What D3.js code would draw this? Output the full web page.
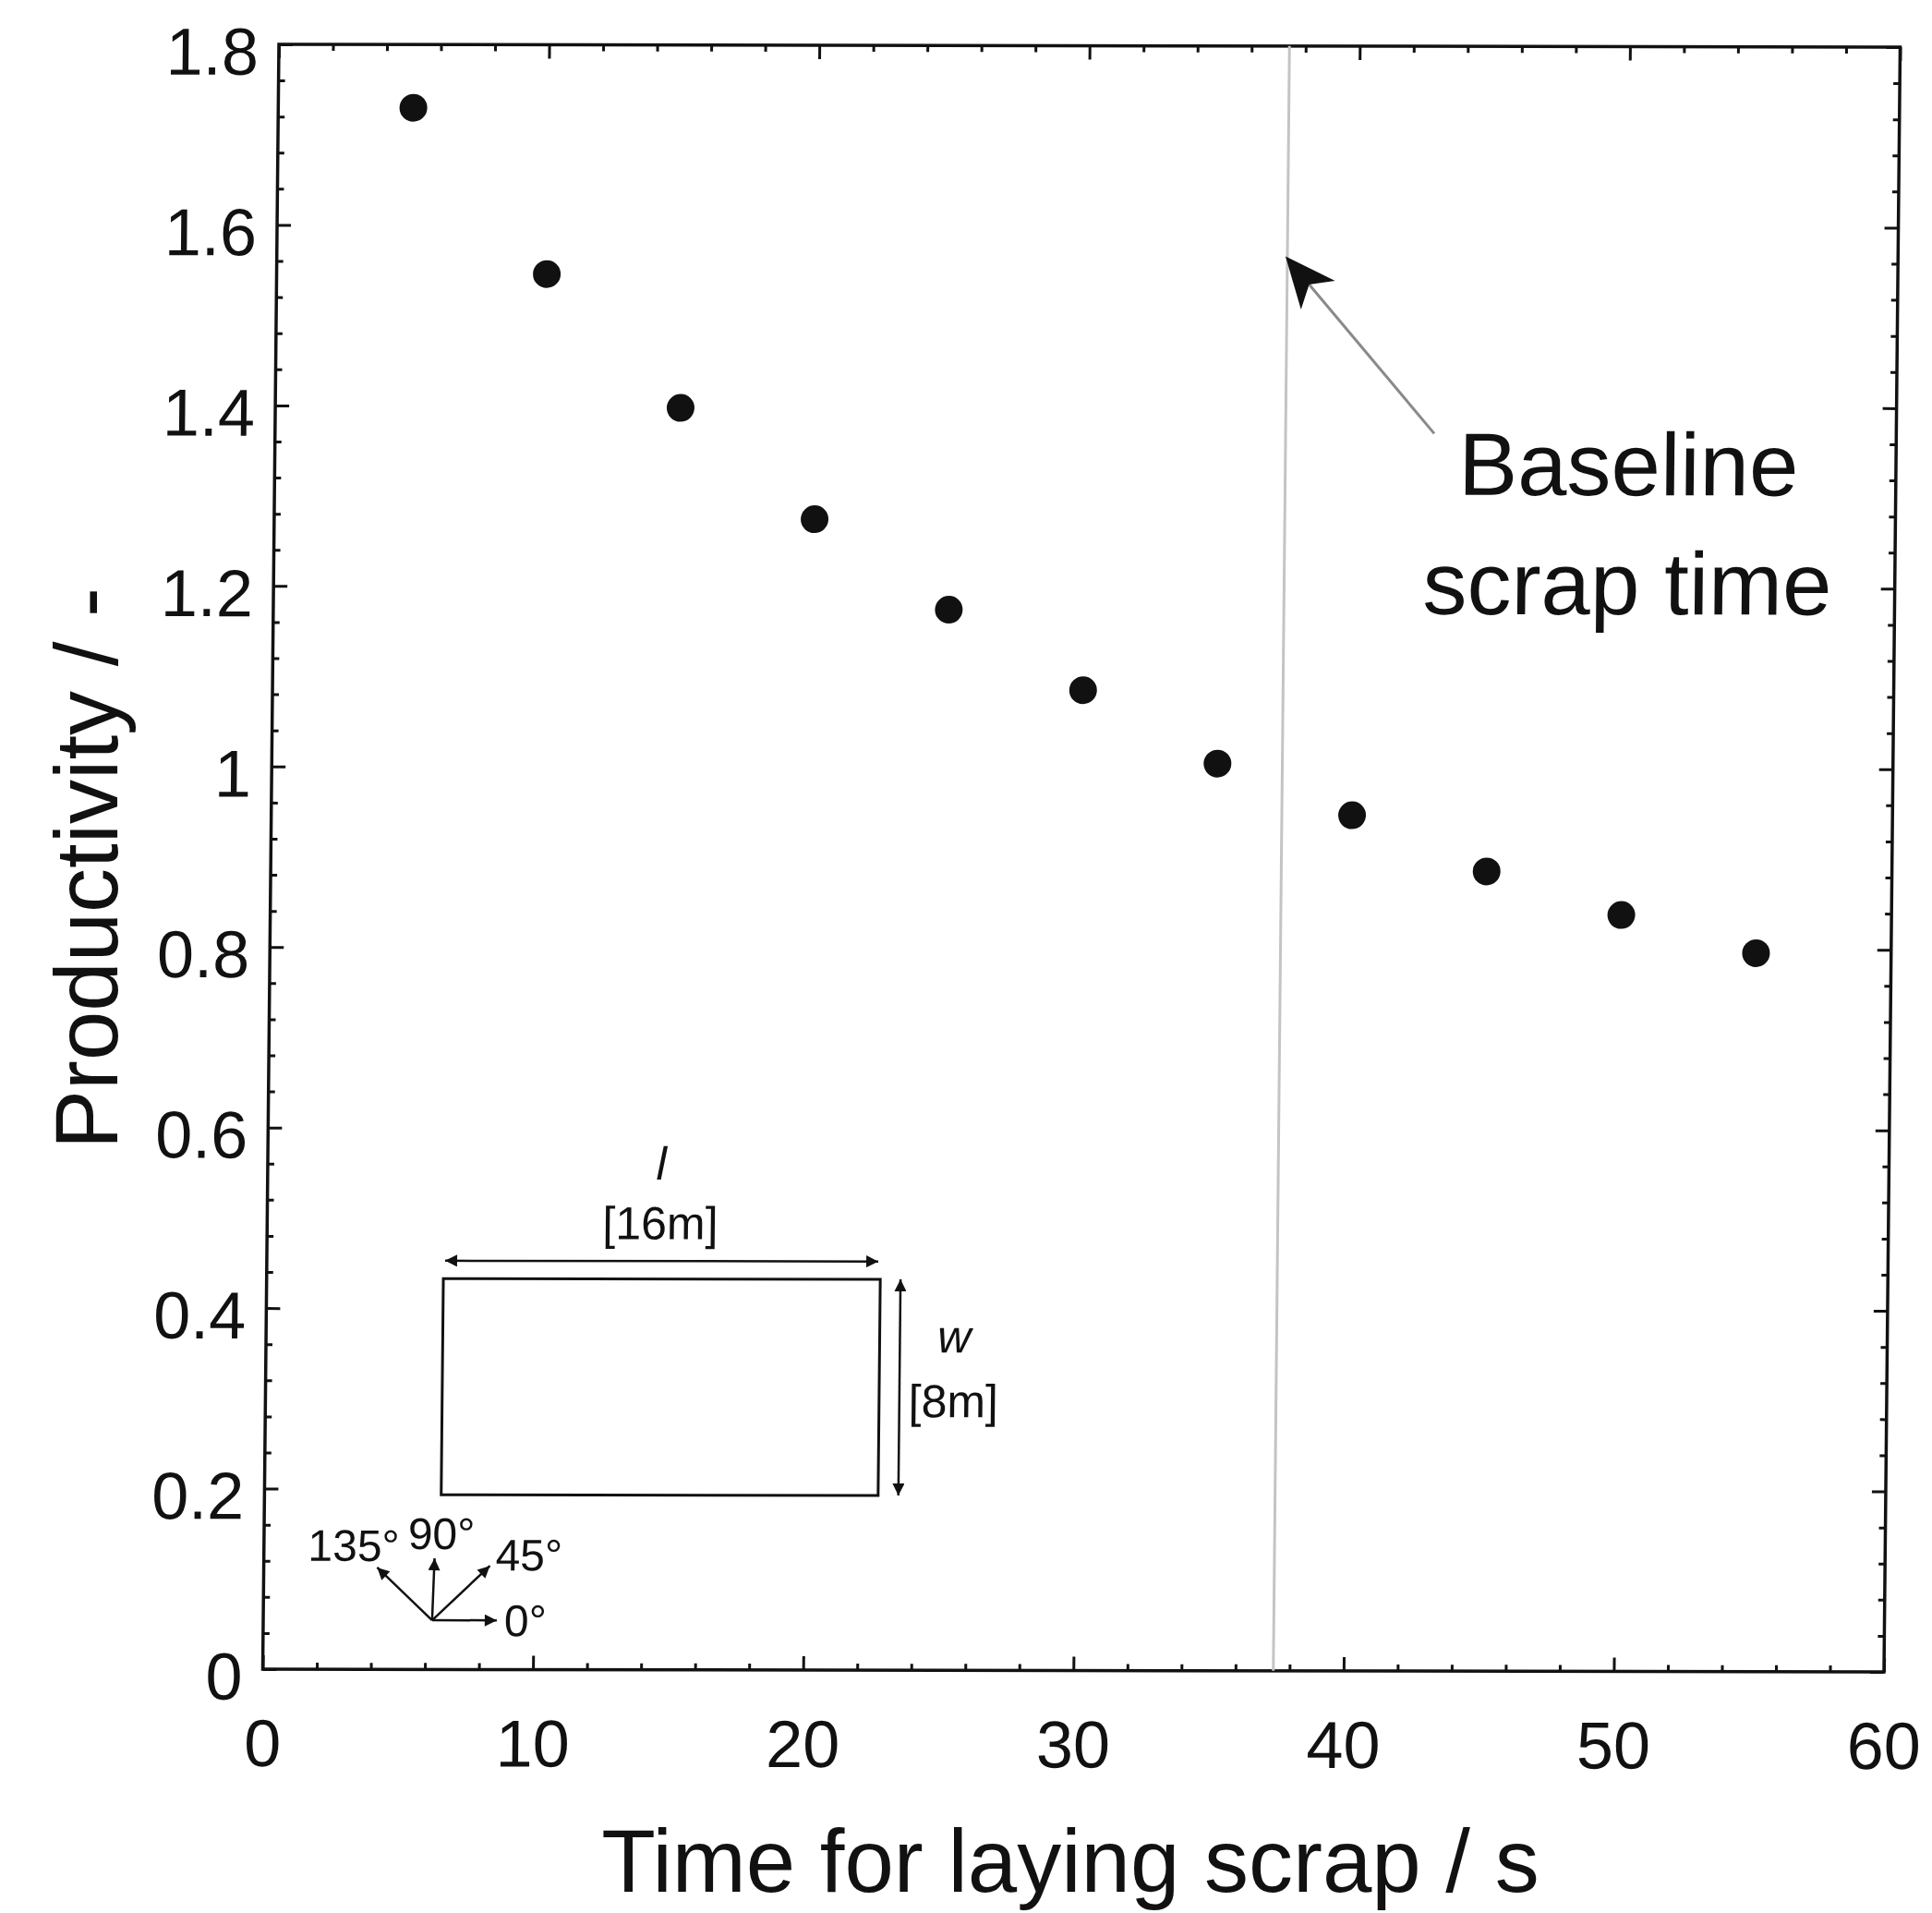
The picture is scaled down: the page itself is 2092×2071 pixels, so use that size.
<!DOCTYPE html>
<html>
<head>
<meta charset="utf-8">
<script src="https://cdn.jsdelivr.net/npm/d3@7"></script>
<style>
  body { margin: 0; background: #fff; }
  svg { display: block; }
</style>
</head>
<body>
<svg id="chart"></svg>
<script>
// scraped values (time in s, productivity)
var times = [5, 10, 15, 20, 25, 30, 35, 40, 45, 50, 55];
var productivity = [1.73, 1.546, 1.398, 1.275, 1.175, 1.086, 1.005, 0.948, 0.886, 0.838, 0.796];
var xTicks = [0, 10, 20, 30, 40, 50, 60];
var yTicks = [0, 0.2, 0.4, 0.6, 0.8, 1, 1.2, 1.4, 1.6, 1.8];
var baselineTime = 37.4;
var angleLabels = ["0°", "45°", "90°", "135°"];

var width = 2092, height = 2071;
var W = 1755.5, H = 1759;
var font = "'Liberation Sans', Arial, Helvetica, sans-serif";
var ink = "#111";

var svg = d3.select("#chart").attr("width", width).attr("height", height);
svg.append("rect").attr("width", width).attr("height", height).attr("fill", "#fff");

var x = d3.scaleLinear().domain([0, 60]).range([0, W]);
var y = d3.scaleLinear().domain([0, 1.8]).range([H, 0]);

// the scanned figure is a little skewed, so the plot box follows it
var plot = svg.append("g")
	.attr("transform", "matrix(1,0.00171,-0.00995,1,302,48)");

function styleAxis(g) {
	g.select(".domain").remove();
	g.selectAll("line").attr("stroke", ink).attr("stroke-width", 3);
	g.selectAll("text")
		.attr("font-family", font)
		.attr("font-size", 72)
		.attr("fill", ink);
}

var xMinor = d3.range(0, 61, 2).filter(function(d) { return d % 10 != 0; });
var yMinor = d3.range(0, 46).map(function(i) { return i * 0.04; })
	.filter(function(d, i) { return i % 5 != 0; });
var yFmt = function(d) { return String(+d.toFixed(1)); };

// bottom
plot.append("g").attr("transform", "translate(0," + H + ")")
	.call(d3.axisBottom(x).tickValues(xTicks).tickSize(-15).tickPadding(54).tickFormat(d3.format("d")))
	.call(styleAxis);
plot.append("g").attr("transform", "translate(0," + H + ")")
	.call(d3.axisBottom(x).tickValues(xMinor).tickSize(-7).tickFormat(""))
	.call(styleAxis);
// top
plot.append("g")
	.call(d3.axisTop(x).tickValues(xTicks).tickSize(-15).tickFormat(""))
	.call(styleAxis);
plot.append("g")
	.call(d3.axisTop(x).tickValues(xMinor).tickSize(-7).tickFormat(""))
	.call(styleAxis);
// left
plot.append("g")
	.call(d3.axisLeft(y).tickValues(yTicks).tickSize(-15).tickPadding(22).tickFormat(yFmt))
	.call(styleAxis)
	.selectAll("text").attr("dy", "0.45em");
plot.append("g")
	.call(d3.axisLeft(y).tickValues(yMinor).tickSize(-7).tickFormat(""))
	.call(styleAxis);
// right
plot.append("g").attr("transform", "translate(" + W + ",0)")
	.call(d3.axisRight(y).tickValues(yTicks).tickSize(-15).tickFormat(""))
	.call(styleAxis);
plot.append("g").attr("transform", "translate(" + W + ",0)")
	.call(d3.axisRight(y).tickValues(yMinor).tickSize(-7).tickFormat(""))
	.call(styleAxis);

plot.append("rect")
	.attr("width", W).attr("height", H)
	.attr("fill", "none").attr("stroke", ink).attr("stroke-width", 3.5);

// baseline scrap time
plot.append("line")
	.attr("x1", x(baselineTime)).attr("x2", x(baselineTime))
	.attr("y1", 0).attr("y2", H)
	.attr("stroke", "#c4c4c4").attr("stroke-width", 3);

plot.append("g").selectAll("circle")
	.data(d3.zip(times, productivity))
	.enter().append("circle")
	.attr("cx", function(d) { return x(d[0]); })
	.attr("cy", function(d) { return y(d[1]); })
	.attr("r", 15)
	.attr("fill", ink);

// annotation arrow + text
var tip = [x(37.33), y(1.567)];
var tail = [x(42.9), y(1.371)];
var ang = Math.atan2(tip[1] - tail[1], tip[0] - tail[0]) * 180 / Math.PI;
plot.append("line")
	.attr("x1", tail[0]).attr("y1", tail[1])
	.attr("x2", tip[0] + (tail[0] - tip[0]) * 0.15).attr("y2", tip[1] + (tail[1] - tip[1]) * 0.15)
	.attr("stroke", "#8a8a8a").attr("stroke-width", 3);
plot.append("path")
	.attr("d", "M0,0L-55,-24L-40,0L-55,24Z")
	.attr("transform", "translate(" + tip + ") rotate(" + ang + ")")
	.attr("fill", ink);

var note = plot.append("g")
	.attr("font-family", font).attr("font-size", 96).attr("fill", ink)
	.attr("text-anchor", "middle");
note.append("text").attr("x", x(50.1)).attr("y", y(1.303)).text("Baseline");
note.append("text").attr("x", x(50.1)).attr("y", y(1.171)).text("scrap time");

// inset sketch of the scrap pile
var defs = svg.append("defs");
defs.append("marker")
	.attr("id", "tri")
	.attr("viewBox", "0 -5 10 10")
	.attr("refX", 10).attr("refY", 0)
	.attr("markerUnits", "userSpaceOnUse")
	.attr("markerWidth", 17).attr("markerHeight", 13)
	.attr("orient", "auto-start-reverse")
	.append("path").attr("d", "M0,-5L10,0L0,5Z").attr("fill", ink);

var inset = plot.append("g").attr("stroke", ink).attr("fill", "none");
inset.append("rect")
	.attr("x", x(6.54)).attr("y", y(0.433))
	.attr("width", x(22.71) - x(6.54)).attr("height", y(0.1935) - y(0.433))
	.attr("stroke-width", 3);
inset.append("line")
	.attr("x1", x(6.6)).attr("x2", x(22.63))
	.attr("y1", y(0.4528)).attr("y2", y(0.4528))
	.attr("stroke-width", 2.5)
	.attr("marker-start", "url(#tri)").attr("marker-end", "url(#tri)");
inset.append("line")
	.attr("x1", x(23.46)).attr("x2", x(23.46))
	.attr("y1", y(0.433)).attr("y2", y(0.1935))
	.attr("stroke-width", 2.5)
	.attr("marker-start", "url(#tri)").attr("marker-end", "url(#tri)");

var insetText = plot.append("g")
	.attr("font-family", font).attr("font-size", 50).attr("fill", ink)
	.attr("text-anchor", "middle");
insetText.append("text").attr("x", x(14.57)).attr("y", y(0.543)).attr("font-style", "italic").text("l");
insetText.append("text").attr("x", x(14.55)).attr("y", y(0.477)).text("[16m]");
insetText.append("text").attr("x", x(25.47)).attr("y", y(0.352)).attr("font-style", "italic").text("w");
insetText.append("text").attr("x", x(25.46)).attr("y", y(0.2804)).text("[8m]");

// direction compass
var compass = plot.append("g")
	.attr("transform", "translate(" + x(6.25) + "," + y(0.0545) + ")");
var dirs = [[70, 0], [62, -59], [2, -67], [-60, -57]];
compass.selectAll("line").data(dirs).enter().append("line")
	.attr("x1", 0).attr("y1", 0)
	.attr("x2", function(d) { return d[0]; })
	.attr("y2", function(d) { return d[1]; })
	.attr("stroke", ink).attr("stroke-width", 2.5)
	.attr("marker-end", "url(#tri)");
var labelPos = [[78, 17, "start"], [68, -54, "start"], [-27, -77, "start"], [-36, -64, "end"]];
compass.selectAll("text").data(angleLabels).enter().append("text")
	.attr("x", function(d, i) { return labelPos[i][0]; })
	.attr("y", function(d, i) { return labelPos[i][1]; })
	.attr("text-anchor", function(d, i) { return labelPos[i][2]; })
	.attr("font-family", font).attr("font-size", 48).attr("fill", ink)
	.text(function(d) { return d; });

// axis titles
svg.append("text")
	.attr("x", 1159).attr("y", 2048)
	.attr("text-anchor", "middle")
	.attr("font-family", font).attr("font-size", 96).attr("fill", ink)
	.text("Time for laying scrap / s");
svg.append("text")
	.attr("transform", "translate(127,940) rotate(-90)")
	.attr("text-anchor", "middle")
	.attr("font-family", font).attr("font-size", 96).attr("fill", ink)
	.text("Productivity / -");
</script>
</body>
</html>
